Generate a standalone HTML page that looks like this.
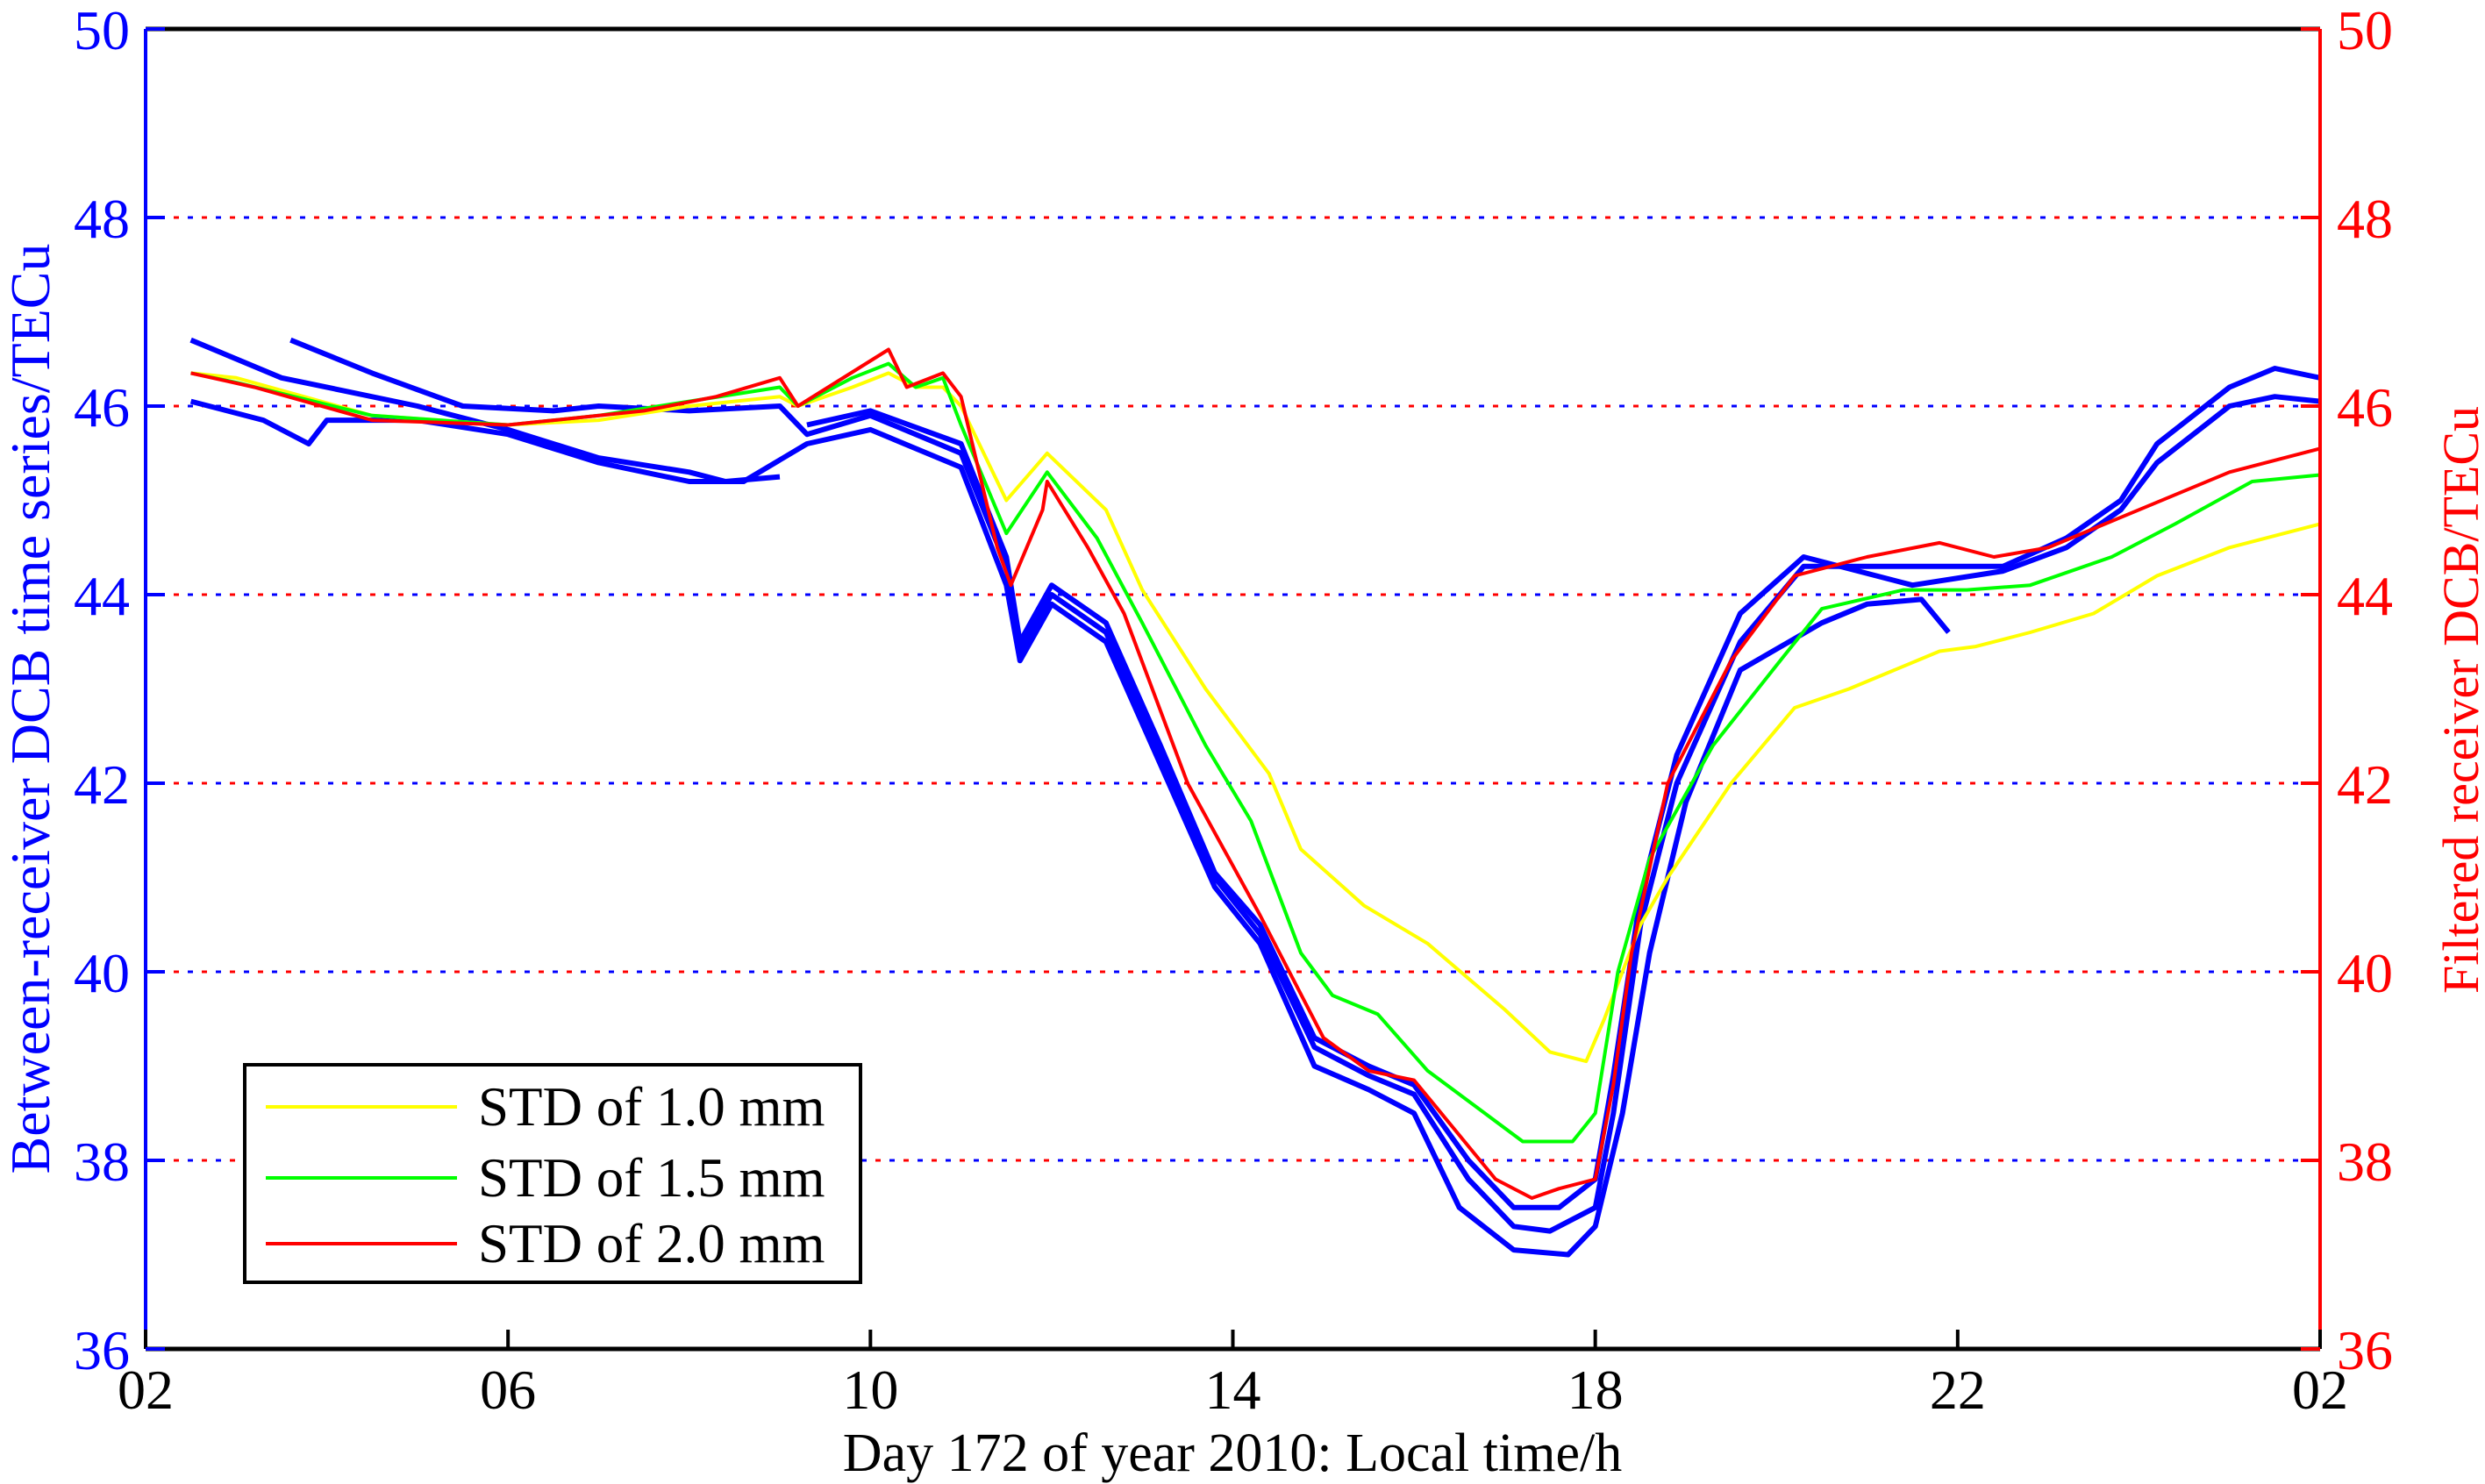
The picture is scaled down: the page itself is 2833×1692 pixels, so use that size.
<!DOCTYPE html>
<html><head><meta charset="utf-8"><style>
html,body{margin:0;padding:0;background:#fff;}
svg{display:block;font-family:"Liberation Serif",serif;}
</style></head><body>
<svg id="chart" width="2833" height="1692" viewBox="0 0 2833 1692" xmlns="http://www.w3.org/2000/svg">
<g id="grid"></g>
<g id="series"></g>
<g id="axes"></g>
<g id="legend"></g>
</svg>
<script>
const xTicks=[2,6,10,14,18,22,26];
const xTickLabels=["02","06","10","14","18","22","02"];
const yTicks=[36,38,40,42,44,46,48,50];
const yellowSeries=[[2.5,46.35],[3,46.3],[4.5,45.9],[6,45.8],[7,45.85],[8,46.0],[9,46.1],[9.2,46.0],[9.8,46.2],[10.2,46.35],[10.5,46.2],[10.8,46.2],[11,46.0],[11.5,45.0],[11.95,45.5],[12.6,44.9],[13,44.05],[13.7,43.0],[14.4,42.1],[14.75,41.3],[15.45,40.7],[16.15,40.3],[17.0,39.6],[17.5,39.15],[17.9,39.05],[18.1,39.5],[18.5,40.5],[18.8,41.0],[19.5,42.0],[20.2,42.8],[20.8,43.0],[21.8,43.4],[22.2,43.45],[22.8,43.6],[23.5,43.8],[24.2,44.2],[25,44.5],[26,44.75]];
const greenSeries=[[2.5,46.35],[3,46.25],[4.5,45.9],[6,45.8],[7,45.9],[8,46.05],[9,46.2],[9.2,46.0],[9.8,46.3],[10.2,46.45],[10.5,46.2],[10.8,46.3],[11,45.8],[11.5,44.65],[11.95,45.3],[12.5,44.6],[13,43.7],[13.7,42.4],[14.2,41.6],[14.75,40.2],[15.1,39.75],[15.6,39.55],[16.15,38.95],[16.85,38.45],[17.2,38.2],[17.75,38.2],[18.0,38.5],[18.25,40.0],[18.6,41.2],[19.3,42.4],[20.0,43.25],[20.5,43.85],[21.4,44.05],[22.1,44.05],[22.8,44.1],[23.7,44.4],[24.4,44.75],[25.25,45.2],[26,45.27]];
const redSeries=[[2.5,46.35],[3.2,46.2],[4.5,45.85],[6,45.8],[7.5,45.95],[8.3,46.1],[9,46.3],[9.2,46.0],[10.2,46.6],[10.4,46.2],[10.8,46.35],[11,46.1],[11.4,44.5],[11.55,44.1],[11.9,44.9],[11.95,45.2],[12.4,44.5],[12.8,43.8],[13.5,42.0],[14.3,40.6],[15,39.3],[15.5,38.95],[16,38.85],[16.3,38.5],[16.9,37.8],[17.3,37.6],[17.6,37.7],[18,37.8],[18.2,38.8],[18.4,40.2],[18.8,42.0],[19.5,43.3],[20.2,44.2],[21,44.4],[21.8,44.55],[22.4,44.4],[23,44.5],[24,44.9],[25,45.3],[26,45.55]];
const blueSeriesA=[[2.5,46.7],[3.5,46.3],[5,46.0],[6,45.75],[7,45.45],[8,45.3],[8.4,45.2],[9,45.25]];
const blueSeriesB=[[3.6,46.7],[4.5,46.35],[5.5,46.0],[6.5,45.95],[7,46.0],[8,45.95],[9,46.0],[9.3,45.7],[10,45.9],[11,45.5],[11.5,44.3],[11.65,43.4],[12,44.0],[12.6,43.6],[13.2,42.3],[13.8,41.0],[14.3,40.4],[14.9,39.2],[15.5,38.9],[16,38.7],[16.6,37.8],[17.1,37.3],[17.5,37.25],[18,37.5],[18.2,38.5],[18.5,40.5],[18.9,42.0],[19.6,43.5],[20.3,44.3],[21.5,44.3],[22.5,44.3],[23.2,44.6],[23.8,45.0],[24.2,45.6],[25,46.2],[25.5,46.4],[26,46.3]];
const blueSeriesC=[[2.5,46.05],[3.3,45.85],[3.8,45.6],[4,45.85],[5,45.85],[6,45.7],[7,45.4],[8,45.2],[8.6,45.2],[9.3,45.6],[10,45.75],[11,45.35],[11.5,44.1],[11.65,43.3],[12,43.9],[12.6,43.5],[13.2,42.2],[13.8,40.9],[14.3,40.3],[14.9,39.0],[15.5,38.75],[16,38.5],[16.5,37.5],[17.1,37.05],[17.7,37.0],[18,37.3],[18.3,38.5],[18.6,40.2],[19.0,41.8],[19.6,43.2],[20.5,43.7],[21,43.9],[21.6,43.95],[21.9,43.6]];
const blueSeriesD=[[9.3,45.8],[10,45.95],[11,45.6],[11.5,44.4],[11.65,43.5],[12,44.1],[12.6,43.7],[13.2,42.4],[13.8,41.05],[14.3,40.5],[14.9,39.3],[15.5,39.0],[16,38.8],[16.6,38.0],[17.1,37.5],[17.6,37.5],[18,37.8],[18.2,38.9],[18.5,40.8],[18.9,42.3],[19.6,43.8],[20.3,44.4],[21.5,44.1],[22.5,44.25],[23.2,44.5],[23.8,44.9],[24.2,45.4],[25,46.0],[25.5,46.1],[26,46.05]];

const X0=166,X1=2645,Y0=1538,Y1=33;
const xs=h=>X0+(h-2)/24*(X1-X0);
const ys=v=>Y0-(v-36)/14*(Y0-Y1);
const NS="http://www.w3.org/2000/svg";
function mk(tag,attrs,parent){const e=document.createElementNS(NS,tag);for(const k in attrs)e.setAttribute(k,attrs[k]);parent.appendChild(e);return e;}
const grid=document.getElementById('grid'),ser=document.getElementById('series'),axes=document.getElementById('axes'),leg=document.getElementById('legend');

yTicks.forEach(v=>{if(v===36||v===50)return;
 const a=mk('line',{x1:X0,x2:X1,y1:ys(v),y2:ys(v),stroke:'#f00','stroke-width':3,'stroke-dasharray':'6 26'},grid);
 
 
 const b=mk('line',{x1:X0+16,x2:X1,y1:ys(v),y2:ys(v),stroke:'#00f','stroke-width':3,'stroke-dasharray':'6 26'},grid);
 
 
});

function path(data,color,w,name){
 const d=data.map((p,i)=>(i?'L':'M')+xs(p[0]).toFixed(1)+','+ys(p[1]).toFixed(1)).join('');
 const e=mk('path',{d:d,fill:'none',stroke:color,'stroke-width':w,'stroke-linejoin':'round'},ser);
 
 
}
path(blueSeriesA,'#0000ff',6,'blue-series-a');
path(blueSeriesB,'#0000ff',6,'blue-series-b');
path(blueSeriesC,'#0000ff',6,'blue-series-c');
path(blueSeriesD,'#0000ff',6,'blue-series-d');
path(yellowSeries,'#ffff00',4,'yellow-series');
path(greenSeries,'#00ff00',4,'green-series');
path(redSeries,'#ff0000',4,'red-series');

let e;
e=mk('line',{x1:X0,x2:X1,y1:Y1,y2:Y1,stroke:'#000','stroke-width':5},axes);


e=mk('line',{x1:X0,x2:X1,y1:Y0,y2:Y0,stroke:'#000','stroke-width':5},axes);


e=mk('line',{x1:X0,x2:X0,y1:Y1,y2:Y0,stroke:'#0000ff','stroke-width':4},axes);


e=mk('line',{x1:X1,x2:X1,y1:Y1,y2:Y0,stroke:'#ff0000','stroke-width':4},axes);



xTicks.forEach((h,i)=>{
 const t=mk('line',{x1:xs(h),x2:xs(h),y1:Y0,y2:Y0-22,stroke:'#000','stroke-width':4},axes);
 
 
 const l=mk('text',{x:xs(h),y:Y0+68,'text-anchor':'middle','font-size':64,fill:'#000'},axes);
 l.textContent=xTickLabels[i];
 
 
});
yTicks.forEach(v=>{
 const t=mk('line',{x1:X0,x2:X0+22,y1:ys(v),y2:ys(v),stroke:'#0000ff','stroke-width':4},axes);
 
 
 const t2=mk('line',{x1:X1-22,x2:X1,y1:ys(v),y2:ys(v),stroke:'#ff0000','stroke-width':4},axes);
 
 
 const l=mk('text',{x:148,y:ys(v)+23,'text-anchor':'end','font-size':64,fill:'#0000ff'},axes);
 l.textContent=v;
 
 
 const r=mk('text',{x:2664,y:ys(v)+23,'text-anchor':'start','font-size':64,fill:'#ff0000'},axes);
 r.textContent=v;
 
 
});
let tt=mk('text',{x:1405,y:1677,'text-anchor':'middle','font-size':62,fill:'#000'},axes);
tt.textContent='Day 172 of year 2010: Local time/h';


tt=mk('text',{x:0,y:0,'text-anchor':'middle','font-size':64,fill:'#0000ff',transform:'translate(56,808) rotate(-90)'},axes);
tt.textContent='Between-receiver DCB time series/TECu';


tt=mk('text',{x:0,y:0,'text-anchor':'middle','font-size':58,fill:'#ff0000',transform:'translate(2825,798) rotate(-90)'},axes);
tt.textContent='Filtered receiver DCB/TECu';



const lb=mk('rect',{x:279,y:1214,width:702,height:248,fill:'#fff',stroke:'#000','stroke-width':4},leg);


const legNames=['STD of 1.0 mm','STD of 1.5 mm','STD of 2.0 mm'];
const legColors=['#ffff00','#00ff00','#ff0000'];
const legY=[1262,1343,1418];
legNames.forEach((n,i)=>{
 const l=mk('line',{x1:303,x2:521,y1:legY[i],y2:legY[i],stroke:legColors[i],'stroke-width':4},leg);
 
 
 const t=mk('text',{x:545,y:legY[i]+21,'font-size':63,fill:'#000'},leg);
 t.textContent=n;
 
 
});
</script>
</body></html>
